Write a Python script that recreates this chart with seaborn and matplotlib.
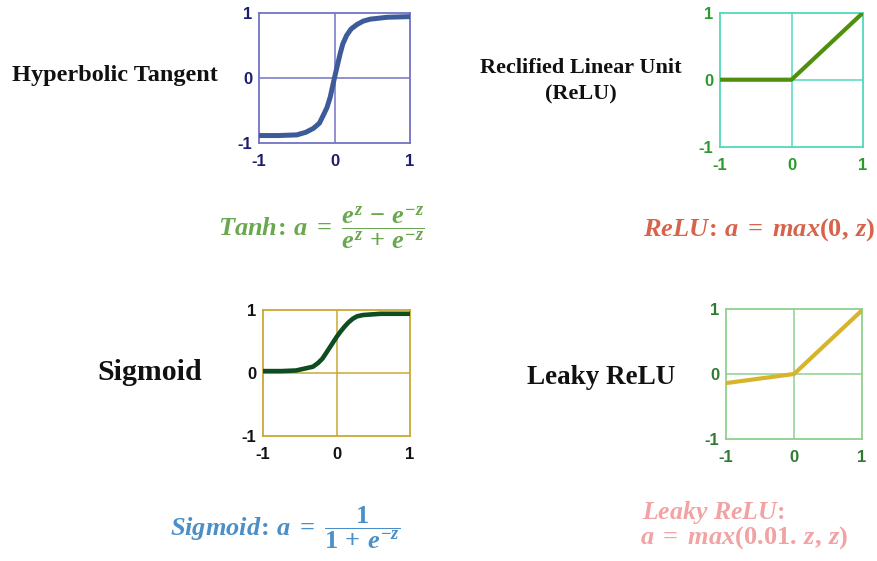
import numpy as np
import pandas as pd
import matplotlib
matplotlib.use("Agg")
import matplotlib.pyplot as plt
import seaborn as sns

# Curves (x in [-1, 1])
tanh_x = [-1.0, -0.75, -0.5, -0.38, -0.28, -0.2, -0.145, -0.1, -0.057, 0.0,
          0.03, 0.075, 0.11, 0.16, 0.22, 0.30, 0.38, 0.47, 0.7, 1.0]
tanh_y = [-0.89, -0.89, -0.88, -0.84, -0.78, -0.70, -0.57, -0.46, -0.30, 0.0,
          0.15, 0.37, 0.52, 0.65, 0.75, 0.82, 0.87, 0.90, 0.93, 0.94]

relu_x = [-1.0, 0.0, 1.0]
relu_y = [0.0, 0.0, 1.0]

sig_x = [-1.0, -0.75, -0.55, -0.32, -0.25, -0.19, -0.145, -0.10, -0.05, 0.0,
         0.05, 0.105, 0.16, 0.22, 0.28, 0.36, 0.6, 1.0]
sig_y = [0.03, 0.03, 0.04, 0.10, 0.16, 0.23, 0.31, 0.39, 0.48, 0.57,
         0.65, 0.73, 0.80, 0.86, 0.90, 0.92, 0.94, 0.94]

leaky_x = [-1.0, 0.0, 1.0]
leaky_y = [-0.14, 0.0, 0.98]

tick_vals = [-1, 0, 1]
tick_labels = ["-1", "0", "1"]

sns.set_style("white")
plt.rcParams["mathtext.fontset"] = "custom"
plt.rcParams["mathtext.rm"] = "Liberation Serif:bold"
plt.rcParams["mathtext.it"] = "Liberation Serif:italic:bold"
plt.rcParams["mathtext.bf"] = "Liberation Serif:bold"

W, H = 877, 561
fig = plt.figure(figsize=(W / 100, H / 100), dpi=100)


def add_panel(box, xs, ys, frame_col, line_col, tick_col, lw):
    x0, y0, x1, y1 = box
    ax = fig.add_axes([x0 / W, 1 - y1 / H, (x1 - x0) / W, (y1 - y0) / H])
    ax.axhline(0, color=frame_col, lw=1.1, zorder=1)
    ax.axvline(0, color=frame_col, lw=1.1, zorder=1)
    df = pd.DataFrame({"x": xs, "y": ys})
    sns.lineplot(data=df, x="x", y="y", ax=ax, color=line_col, lw=lw,
                 sort=False, solid_capstyle="round", solid_joinstyle="round",
                 zorder=3)
    ax.set_xlim(-1, 1)
    ax.set_ylim(-1, 1)
    ax.set_xticks(tick_vals, tick_labels)
    ax.set_yticks(tick_vals, tick_labels)
    ax.set_xlabel("")
    ax.set_ylabel("")
    ax.tick_params(length=0, labelsize=12, labelcolor=tick_col)
    ax.tick_params(axis="x", pad=8)
    ax.tick_params(axis="y", pad=5)
    for lab in ax.get_xticklabels() + ax.get_yticklabels():
        lab.set_fontweight("bold")
        lab.set_fontfamily("Liberation Sans")
    for s in ax.spines.values():
        s.set_color(frame_col)
        s.set_linewidth(1.3)
    return ax


add_panel((259, 12.7, 410, 142.7), tanh_x, tanh_y, "#7373c4", "#3d5a99", "#1c1c70", 3.6)
add_panel((720, 12.7, 863, 146.7), relu_x, relu_y, "#52d8bb", "#4f8f0e", "#2a9a2a", 3.0)
add_panel((263, 310, 410, 436), sig_x, sig_y, "#c9a833", "#0d4d20", "#111111", 3.3)
add_panel((726, 309, 862, 439), leaky_x, leaky_y, "#8fd08f", "#d6b42c", "#2e7a2e", 3.0)

serif = "Liberation Serif"
fig.text(12 / W, 1 - 75 / H, "Hyperbolic Tangent", family=serif, weight="bold",
         fontsize=17.5, ha="left", va="center", color="#111111")
fig.text(581 / W, 1 - 81 / H, "Reclified Linear Unit\n(ReLU)", family=serif,
         weight="bold", fontsize=16, ha="center", va="center", linespacing=1.45,
         color="#111111")
fig.text(150 / W, 1 - 373 / H, "Sigmoid", family=serif, weight="bold",
         fontsize=21.5, ha="center", va="center", color="#111111")
fig.text(601 / W, 1 - 378 / H, "Leaky ReLU", family=serif, weight="bold",
         fontsize=19.5, ha="center", va="center", color="#111111")

fig.text(321 / W, 1 - 228 / H,
         r"$Tanh\!:\,a\;=\;\dfrac{e^{z}\,-\,e^{-z}}{e^{z}\,+\,e^{-z}}$",
         color="#6aa84f", fontsize=19, ha="center", va="center")
fig.text(759 / W, 1 - 230 / H, r"$ReLU\!:\,a\;=\;max(0,\,z)$",
         color="#d6634a", fontsize=19, ha="center", va="center")
fig.text(285 / W, 1 - 528 / H, r"$Sigmoid\!:\,a\;=\;\dfrac{1}{1\,+\,e^{-z}}$",
         color="#4a8fc8", fontsize=19, ha="center", va="center")
fig.text(642 / W, 1 - 513 / H, r"$Leaky\ ReLU\!:$",
         color="#f2a2a2", fontsize=18.5, ha="left", va="center")
fig.text(640 / W, 1 - 538 / H, r"$a\;=\;max(0.01.\,z,\,z)$",
         color="#f2a2a2", fontsize=19, ha="left", va="center")

fig.savefig("out.png", dpi=100, facecolor="white")
